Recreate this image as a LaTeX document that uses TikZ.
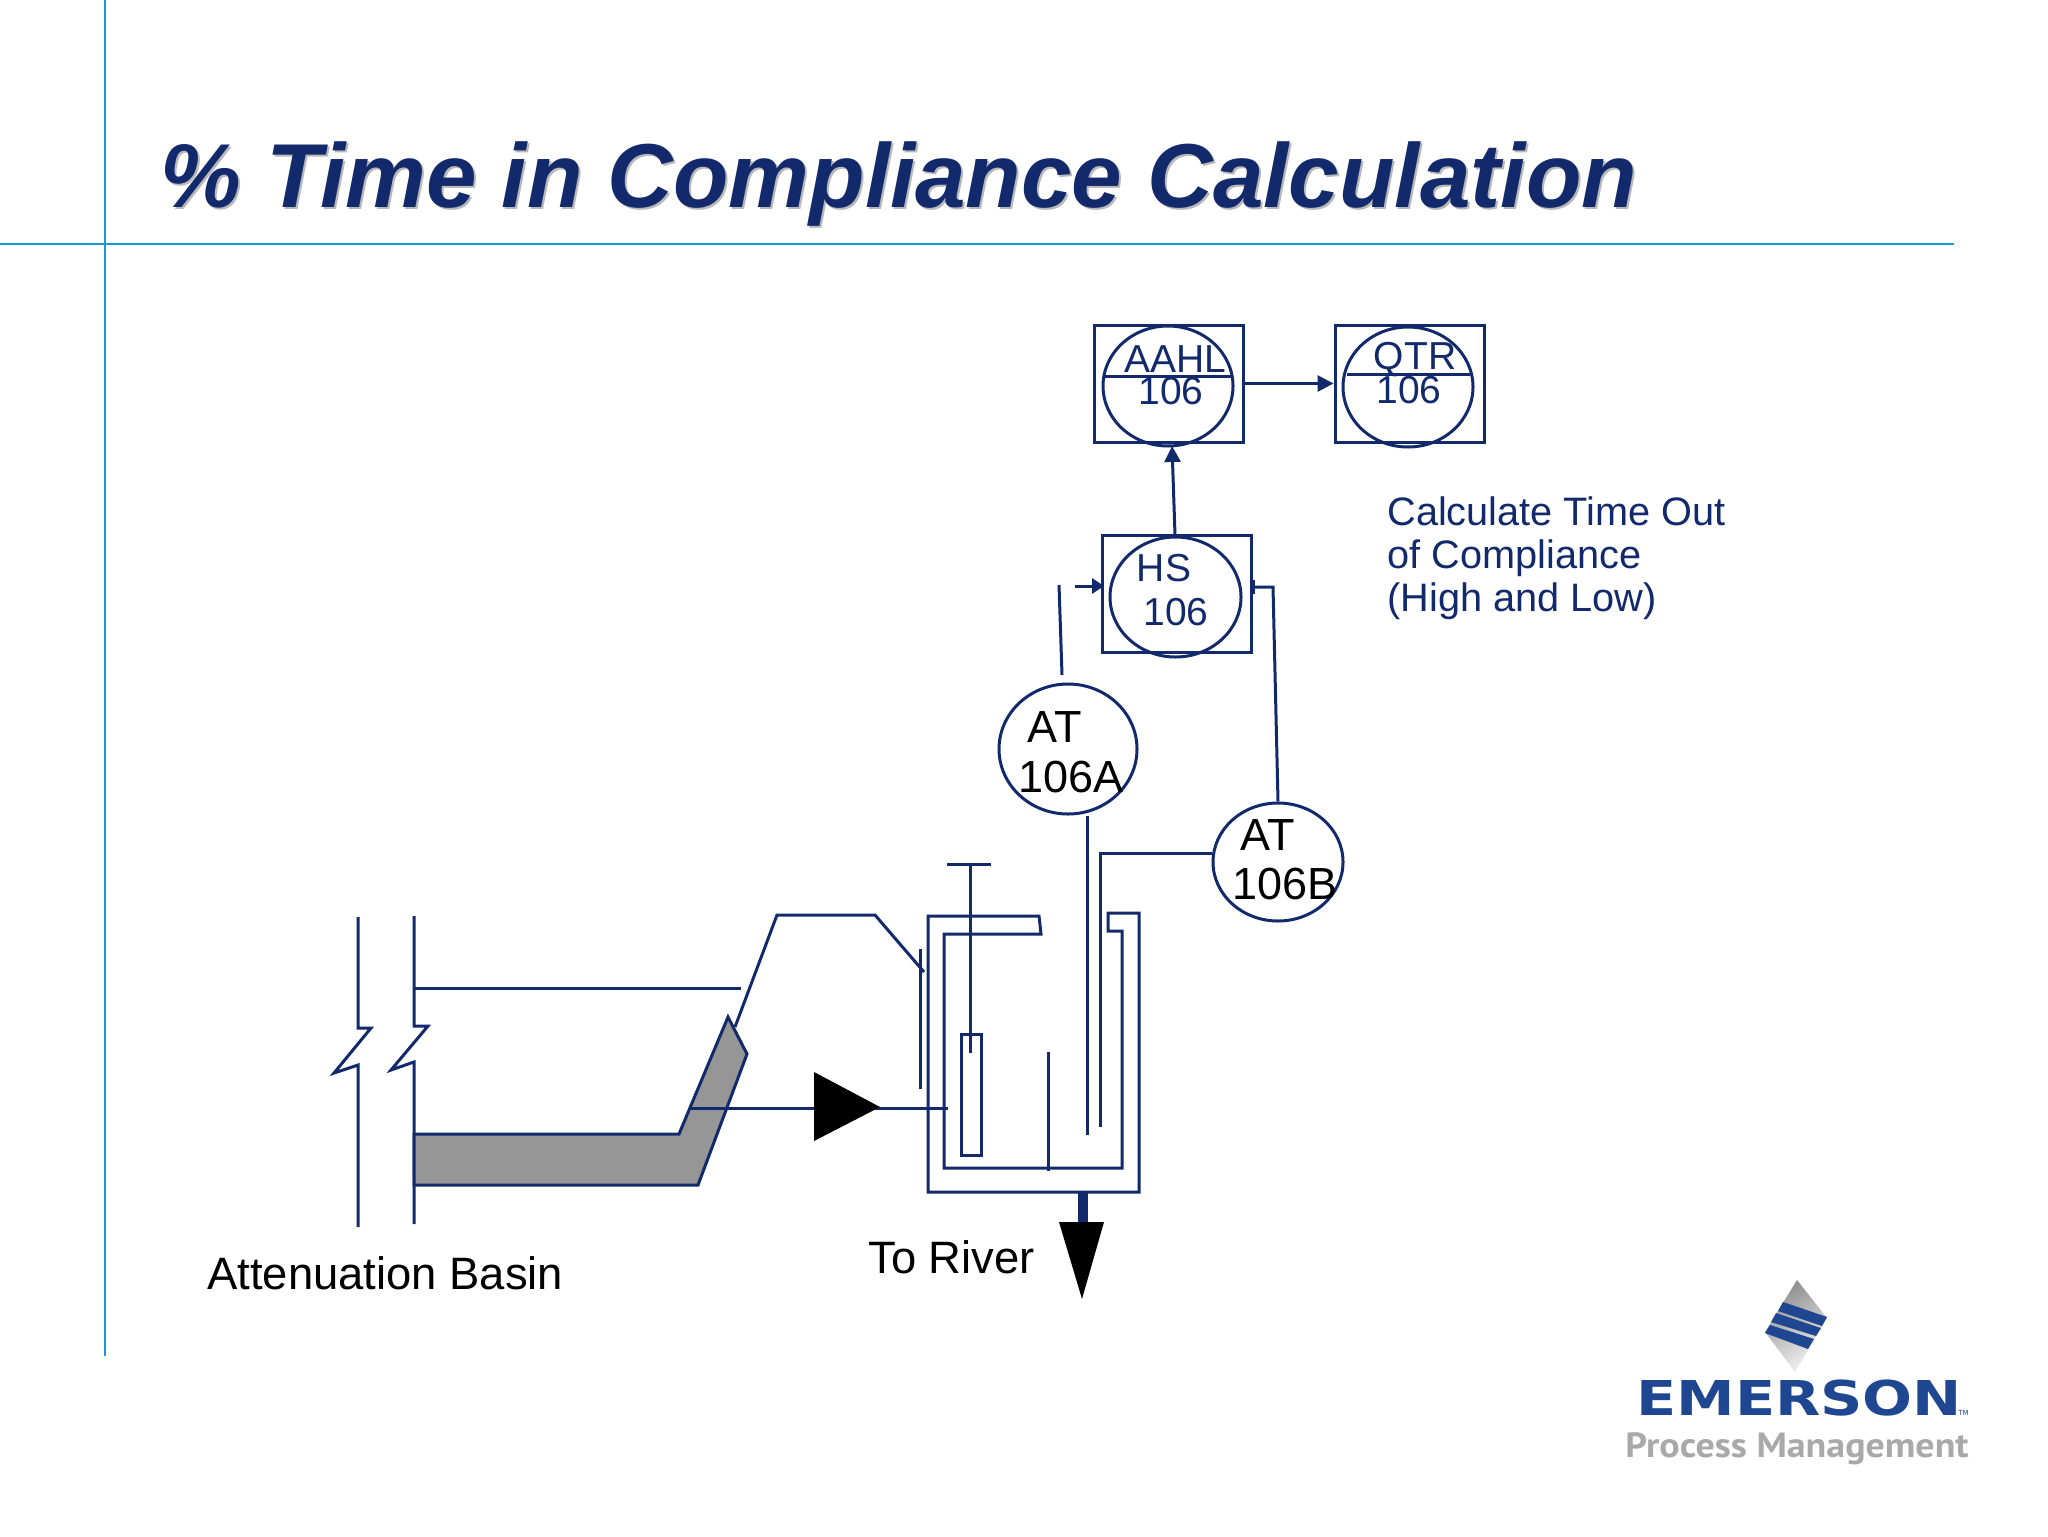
\documentclass[tikz,border=0pt]{standalone}
\usepackage{fontspec}
\setmainfont{Liberation Sans}
\newfontfamily\logofont{DejaVu Sans}
\newfontfamily\procfont{PT Sans}
\usetikzlibrary{arrows.meta,shapes.geometric}
\definecolor{navy}{HTML}{12296B}
\definecolor{rule}{HTML}{1C9AD6}
\definecolor{basin}{HTML}{969696}
\definecolor{logoblue}{HTML}{1F4690}
\definecolor{logogrey}{HTML}{A9A9A9}
\tikzset{
  x=0.5pt,y=-0.5pt,
  pipe/.style={draw=navy,line width=1.5pt,line join=miter},
  flow/.style={pipe,-{Triangle[length=8pt,width=8pt]}},
  instbox/.style={rectangle,draw=navy,line width=1.5pt,minimum width=74.5pt,minimum height=58.5pt,inner sep=0pt},
  instcirc/.style={ellipse,draw=navy,line width=1.5pt,inner sep=0pt},
  insttext/.style={anchor=base,text=navy,font=\fontsize{19.5pt}{19.5pt}\selectfont,inner sep=0pt},
  attext/.style={anchor=base west,text=black,font=\fontsize{22.5pt}{22.5pt}\selectfont,inner sep=0pt},
  titletext/.style={anchor=base west,inner sep=0pt,font=\fontsize{45.4pt}{45.4pt}\selectfont\bfseries\itshape},
  plainlabel/.style={anchor=base west,inner sep=0pt,font=\fontsize{22.7pt}{22.7pt}\selectfont},
  notetext/.style={anchor=base west,inner sep=0pt,text=navy,font=\fontsize{19.85pt}{19.85pt}\selectfont},
}
\begin{document}
\begin{tikzpicture}
\useasboundingbox (0,0) rectangle (2048,1536);
% slide rules
\coordinate (vtop) at (105,0); \coordinate (vbot) at (105,1356);
\coordinate (hl) at (0,244); \coordinate (hr) at (1954,244);
\draw[rule,line width=1.1pt] (vtop)--(vbot);
\draw[rule,line width=1.1pt] (hl)--(hr);
% title
\node[titletext,text=black!28] (titleshadow) at (162,209.5) {\% Time in Compliance Calculation};
\node[titletext,text=navy] (title) at (160,207.5) {\% Time in Compliance Calculation};
% instruments
\node[instbox] (aahlbox) at (1169,383.5) {};
\node[instcirc,minimum width=65pt,minimum height=60pt] (aahlcirc) at (1168,386) {};
\coordinate (aahlL) at (1104,376); \coordinate (aahlR) at (1233,376);
\draw[pipe] (aahlL)--(aahlR);
\node[insttext] (aahlt) at (1175,372) {AAHL};
\node[insttext] (aahln) at (1171,404) {106};
\node[instbox] (qtrbox) at (1409.5,384) {};
\node[instcirc,minimum width=65pt,minimum height=60pt] (qtrcirc) at (1408,387) {};
\coordinate (qtrL) at (1347,374); \coordinate (qtrR) at (1470,374);
\draw[pipe] (qtrL)--(qtrR);
\node[insttext] (qtrt) at (1415,369) {QTR};
\node[insttext] (qtrn) at (1409,403) {106};
\node[instbox] (hsbox) at (1176.5,593.5) {};
\node[instcirc,minimum width=65.5pt,minimum height=60pt] (hscirc) at (1175.5,597) {};
\node[insttext] (hst) at (1164,581) {HS};
\node[insttext] (hsn) at (1176,625) {106};
\draw[flow] (aahlbox.east)--(aahlbox.east -| qtrbox.west);
\coordinate (hsup) at (1175,535); \coordinate (aahlin) at (1172,446);
\draw[flow] (hsup)--(aahlin);
\coordinate (inA) at (1075,586); \coordinate (inAend) at (1104,586);
\draw[pipe,-{Triangle[length=6pt,width=7.5pt]}] (inA)--(inAend);
% analyzers
\node[instcirc,minimum width=69pt,minimum height=65pt] (at106a) at (1068,749) {};
\node[attext] (atat) at (1027,742) {AT};
\node[attext] (atan) at (1018,792) {106A};
\node[instcirc,minimum width=65pt,minimum height=59pt] (at106b) at (1278,862) {};
\node[attext] (atbt) at (1240,850) {AT};
\node[attext] (atbn) at (1232,899) {106B};
\coordinate (aTop) at (1059,585); \coordinate (aBot) at (1062,675);
\draw[pipe] (aTop)--(aBot);
\coordinate (bElbow) at (1273,587); \coordinate (bIn) at (1255,587);
\coordinate (bBar1) at (1253,580); \coordinate (bBar2) at (1253,594);
\draw[pipe] (at106b.north) -- (bElbow) -- (bIn);
\draw[navy,line width=2.4pt] (bBar1)--(bBar2);
% tank
\draw[pipe] (928,916)--(1039,916)--(1041,934)--(944,934)--(944,1168)--(1122,1168)--(1122,931)--(1108,931)--(1108,913)--(1139,913)--(1139,1192)--(928,1192)--cycle;
\coordinate (tbarL) at (947,864); \coordinate (tbarR) at (991,864);
\coordinate (tbarM) at (970,864); \coordinate (tbarB) at (970,1053);
\draw[pipe] (tbarL)--(tbarR);
\draw[pipe] (tbarM)--(tbarB);
\draw[pipe] (961,1034) rectangle (981,1155);
\draw[pipe] (1048,1052)--(1048,1171);
\draw[pipe] (920,949)--(920,1089);
\coordinate (aDown) at (1087,1135);
\draw[pipe] (at106a.south -| aDown)--(aDown);
\draw[pipe] (at106b.west |- 1100,853)--(1100,853)--(1100,1127);
% basin
\draw[pipe] (358,917)--(358,1028)--(371,1028)--(334,1073)--(358,1065)--(358,1227);
\draw[pipe] (414,916)--(414,1026)--(428,1026)--(391,1070)--(414,1062)--(414,1224);
\draw[pipe] (414,988)--(741,988);
\draw[pipe,fill=basin] (414,1134)--(679,1134)--(728,1017)--(747,1054)--(698,1185)--(414,1185)--cycle;
\draw[pipe] (735,1027)--(777,915)--(875,915)--(924,972);
\draw[pipe] (689,1108)--(948,1108);
\fill[black] (814,1072)--(880,1107)--(814,1141)--cycle;
% outlet
\fill[navy] (1078,1192) rectangle (1088,1224);
\fill[black] (1059,1222)--(1104,1222)--(1082,1299)--cycle;
% labels
\node[plainlabel] (lblbasin) at (207,1289) {Attenuation Basin};
\node[plainlabel] (lblriver) at (868,1273) {To River};
\node[notetext] (c1) at (1387,525) {Calculate Time Out};
\node[notetext] (c2) at (1387,568) {of Compliance};
\node[notetext] (c3) at (1387,611) {(High and Low)};
% logo
\shade[left color=black!45,right color=black!5,shading angle=35] (1797,1280)--(1827,1318)--(1795,1372)--(1765,1332)--cycle;
\fill[logoblue] (1783,1302)--(1827,1317)--(1822,1326)--(1778,1311)--cycle;
\fill[logoblue] (1776,1313)--(1821,1328)--(1816,1336)--(1771,1322)--cycle;
\fill[logoblue] (1770,1325)--(1814,1339)--(1808,1349)--(1765,1333)--cycle;
\node[anchor=base west,inner sep=0pt,text=logoblue,font=\logofont\bfseries\fontsize{24pt}{24pt}\selectfont] (emerson) at (1636,1415) {\scalebox{1.225}[1]{EMERSON}};
\node[anchor=base west,inner sep=0pt,text=logoblue,font=\logofont\fontsize{3.5pt}{3.5pt}\selectfont] (tm) at (1958,1415) {TM};
\node[anchor=base west,inner sep=0pt,text=logogrey,font=\procfont\bfseries\fontsize{17.5pt}{17.5pt}\selectfont] (proc) at (1625,1457) {\scalebox{1.085}[1]{Process Management}};
\end{tikzpicture}
\end{document}
